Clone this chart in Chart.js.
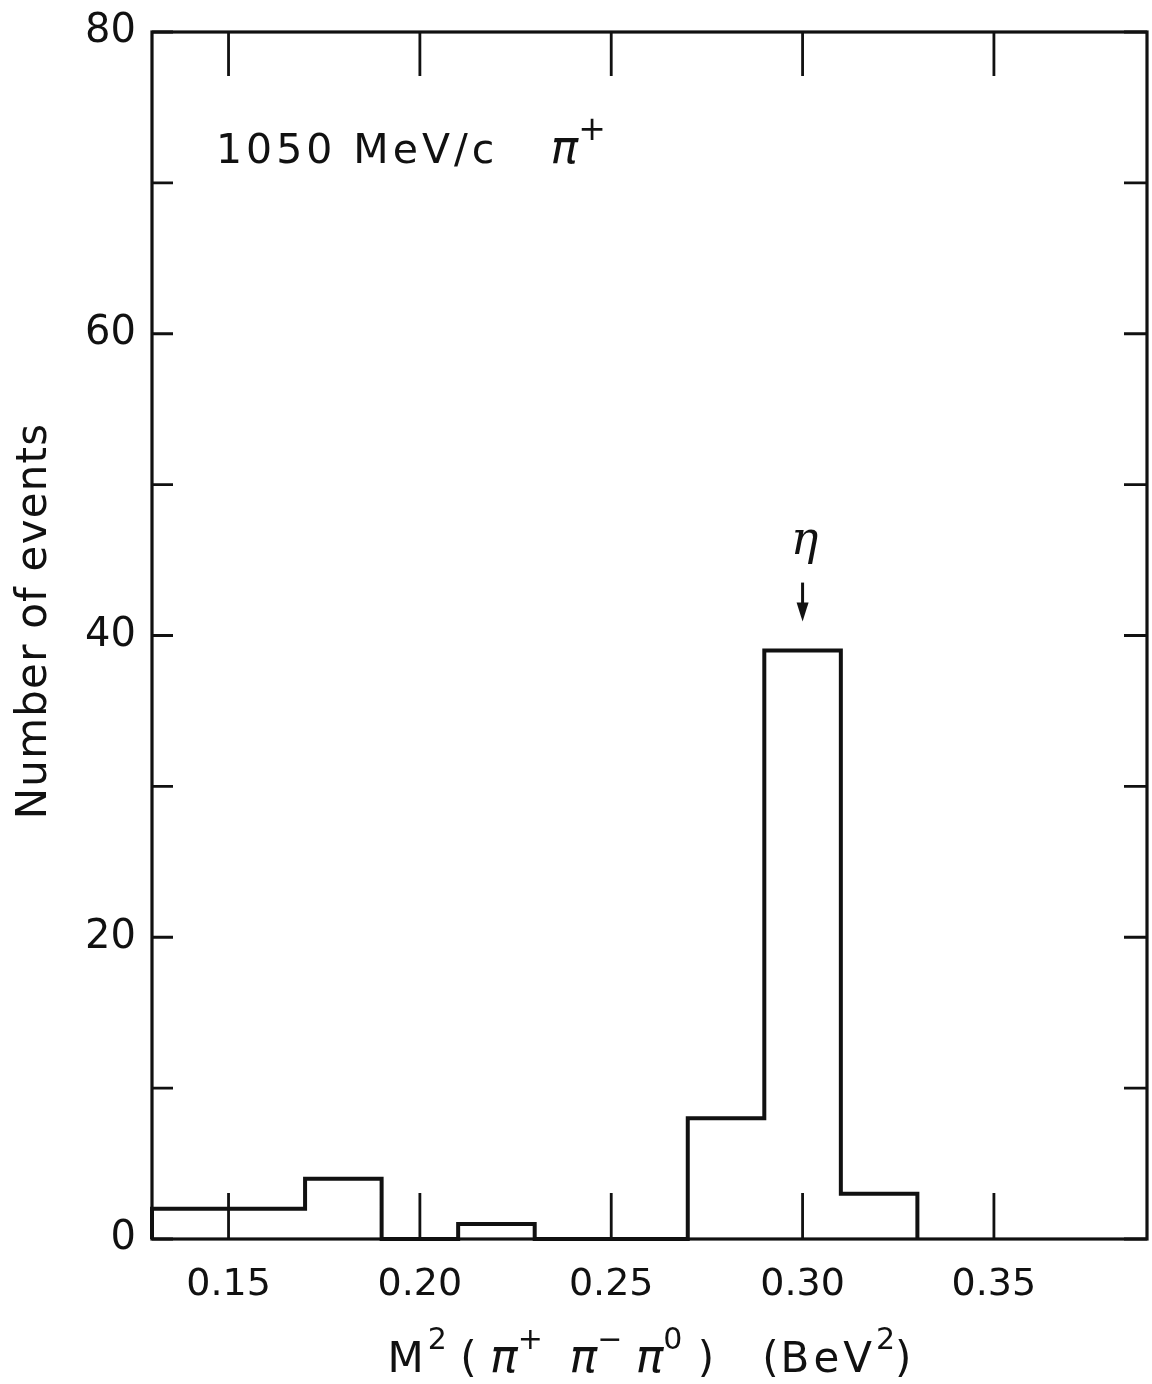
<!DOCTYPE html>
<html>
<head>
<meta charset="utf-8">
<script src="https://cdn.jsdelivr.net/npm/chart.js@4/dist/chart.umd.min.js"></script>
<style>
  html, body { margin: 0; padding: 0; background: #fff; }
  #wrap { width: 1152px; height: 1384px; }
</style>
</head>
<body>
<div id="wrap"><canvas id="c" width="1152" height="1384"></canvas></div>
<script>
// Histogram of M^2(pi+ pi- pi0), bins of 0.02 BeV^2
const binEdges = [0.13, 0.15, 0.17, 0.19, 0.21, 0.23, 0.25, 0.27, 0.29, 0.31, 0.33];
const counts   = [2, 2, 4, 0, 1, 0, 0, 8, 39, 3];
const xTickValues = [0.15, 0.20, 0.25, 0.30, 0.35];
const yTickValues = [0, 10, 20, 30, 40, 50, 60, 70, 80];
const yLabelValues = [0, 20, 40, 60, 80];
const xRange = [0.13, 0.39];
const yRange = [0, 80];
const peakPosition = 0.30;
const peakName = 'η';

const FONT = '"DejaVu Sans", sans-serif';
const INK = '#111';

// Step outline built from the bin edges and counts
const outline = [{ x: binEdges[0], y: 0 }];
counts.forEach((c, i) => {
  outline.push({ x: binEdges[i], y: c });
  outline.push({ x: binEdges[i + 1], y: c });
});
outline.push({ x: binEdges[binEdges.length - 1], y: 0 });

// Draws a run of text pieces, some raised as superscripts
function drawRuns(ctx, runs, x, y, size, align, supScale) {
  const k = supScale || 0.66;
  const pieces = runs.map(r => {
    const sz = r.sup ? Math.round(size * k) : (r.size || size);
    const font = (r.italic ? 'italic ' : '') + sz + 'px ' + (r.family || FONT);
    ctx.font = font;
    ctx.letterSpacing = (r.spacing || 0) + 'px';
    return { r, font, w: ctx.measureText(r.t).width };
  });
  const total = pieces.reduce((s, p) => s + p.w, 0);
  let cx = align === 'center' ? x - total / 2 : x;
  ctx.textBaseline = 'alphabetic';
  ctx.textAlign = 'left';
  pieces.forEach(p => {
    ctx.font = p.font;
    ctx.letterSpacing = (p.r.spacing || 0) + 'px';
    ctx.fillText(p.r.t, cx, p.r.sup ? y - size * 0.55 : y);
    cx += p.w;
  });
  ctx.letterSpacing = '0px';
}

const framePlugin = {
  id: 'frame',
  afterDatasetsDraw(chart) {
    const { ctx, chartArea: a, scales } = chart;
    ctx.save();
    ctx.strokeStyle = INK;
    ctx.lineWidth = 3.2;
    ctx.strokeRect(a.left, a.top, a.right - a.left, a.bottom - a.top);
    ctx.lineWidth = 2.8;
    ctx.beginPath();
    xTickValues.forEach(v => {
      const px = scales.x.getPixelForValue(v);
      ctx.moveTo(px, a.top); ctx.lineTo(px, a.top + 44);
      ctx.moveTo(px, a.bottom); ctx.lineTo(px, a.bottom - 46);
    });
    yTickValues.forEach(v => {
      const py = scales.y.getPixelForValue(v);
      ctx.moveTo(a.left, py); ctx.lineTo(a.left + 21, py);
      ctx.moveTo(a.right, py); ctx.lineTo(a.right - 23, py);
    });
    ctx.stroke();
    ctx.restore();
  },
  afterDraw(chart) {
    const { ctx, chartArea: a, scales } = chart;
    ctx.save();
    ctx.fillStyle = INK;

    // Beam momentum label
    drawRuns(ctx, [
      { t: '1050 MeV/c', spacing: 4 },
      { t: '    ' },
      { t: 'π', italic: true, size: 46 },
      { t: '+', sup: true }
    ], a.left + 64, a.top + 131, 41, 'left', 0.8);

    // Eta marker above the peak bin
    const px = scales.x.getPixelForValue(peakPosition);
    const peakTop = scales.y.getPixelForValue(Math.max(...counts));
    ctx.strokeStyle = INK;
    ctx.lineWidth = 3;
    ctx.beginPath();
    ctx.moveTo(px, peakTop - 68);
    ctx.lineTo(px, peakTop - 44);
    ctx.stroke();
    ctx.beginPath();
    ctx.moveTo(px - 6, peakTop - 48);
    ctx.lineTo(px + 6, peakTop - 48);
    ctx.lineTo(px, peakTop - 29);
    ctx.closePath();
    ctx.fill();
    ctx.font = 'italic 46px "DejaVu Serif", serif';
    ctx.textAlign = 'center';
    ctx.textBaseline = 'alphabetic';
    ctx.fillText(peakName, px + 2, peakTop - 97);

    // Horizontal axis title
    drawRuns(ctx, [
      { t: 'M', spacing: 4 },
      { t: '2', sup: true },
      { t: ' ( ' },
      { t: 'π', italic: true, size: 46 },
      { t: '+', sup: true },
      { t: '  ' },
      { t: 'π', italic: true, size: 46 },
      { t: '−', sup: true },
      { t: ' ' },
      { t: 'π', italic: true, size: 46 },
      { t: '0', sup: true },
      { t: ' )   (', spacing: 2 },
      { t: 'BeV', spacing: 4 },
      { t: '2', sup: true },
      { t: ')' }
    ], (a.left + a.right) / 2, 1372, 42, 'center', 0.72);

    // Vertical axis title
    ctx.translate(46, 621);
    ctx.rotate(-Math.PI / 2);
    ctx.font = '42px ' + FONT;
    ctx.letterSpacing = '1.2px';
    ctx.textAlign = 'center';
    ctx.textBaseline = 'alphabetic';
    ctx.fillText('Number of events', 0, 0);
    ctx.restore();
  }
};

new Chart(document.getElementById('c'), {
  type: 'line',
  data: {
    datasets: [{
      data: outline,
      borderColor: INK,
      borderWidth: 4,
      pointRadius: 0,
      tension: 0,
      fill: false,
      borderJoinStyle: 'miter',
      clip: false
    }]
  },
  options: {
    responsive: false,
    animation: false,
    events: [],
    layout: { autoPadding: false, padding: { top: 27, right: 5, left: 0, bottom: 0 } },
    plugins: { legend: { display: false }, tooltip: { enabled: false } },
    scales: {
      x: {
        type: 'linear',
        min: xRange[0],
        max: xRange[1],
        grid: { display: false },
        border: { display: false },
        afterBuildTicks: s => { s.ticks = xTickValues.map(v => ({ value: v })); },
        afterFit: s => { s.height = 145; },
        ticks: {
          color: INK,
          padding: 15,
          maxRotation: 0,
          font: { family: FONT, size: 38 },
          callback: v => v.toFixed(2)
        }
      },
      y: {
        type: 'linear',
        min: yRange[0],
        max: yRange[1],
        grid: { display: false },
        border: { display: false },
        afterBuildTicks: s => { s.ticks = yTickValues.map(v => ({ value: v })); },
        afterFit: s => { s.width = 152; },
        ticks: {
          color: INK,
          padding: 8,
          font: { family: FONT, size: 40 },
          callback: v => (yLabelValues.includes(v) ? String(v) : '')
        }
      }
    }
  },
  plugins: [framePlugin]
});
</script>
</body>
</html>
